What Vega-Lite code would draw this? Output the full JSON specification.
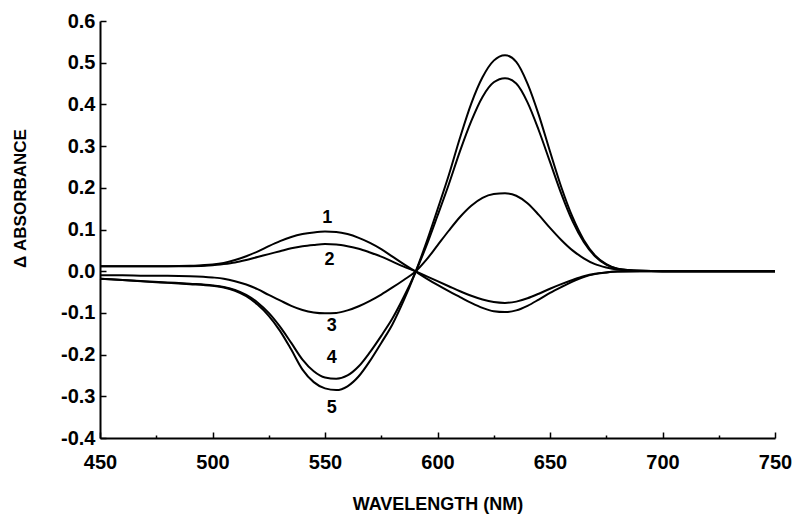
{
  "$schema": "https://vega.github.io/schema/vega-lite/v6.json",
  "width": 675,
  "height": 417,
  "autosize": "none",
  "padding": {"left": 100, "top": 21, "right": 18, "bottom": 76},
  "background": "white",
  "config": {
    "view": {"stroke": null},
    "font": "Liberation Sans",
    "axis": {
      "domainColor": "black",
      "domainWidth": 2,
      "tickColor": "black",
      "tickWidth": 1.5,
      "grid": false,
      "labelFont": "Liberation Sans",
      "labelFontWeight": "bold",
      "labelFontSize": 20,
      "labelColor": "black",
      "titleFont": "Liberation Sans",
      "titleFontWeight": "bold",
      "titleColor": "black"
    }
  },
  "datasets": {
    "spectra": [
      {"w": 450, "c1": 0.012, "c2": 0.012, "c3": -0.010, "c4": -0.018, "c5": -0.018},
      {"w": 460, "c1": 0.012, "c2": 0.012, "c3": -0.010, "c4": -0.021, "c5": -0.021},
      {"w": 470, "c1": 0.012, "c2": 0.012, "c3": -0.011, "c4": -0.024, "c5": -0.025},
      {"w": 480, "c1": 0.012, "c2": 0.012, "c3": -0.011, "c4": -0.027, "c5": -0.028},
      {"w": 490, "c1": 0.013, "c2": 0.012, "c3": -0.012, "c4": -0.030, "c5": -0.031},
      {"w": 500, "c1": 0.016, "c2": 0.014, "c3": -0.015, "c4": -0.034, "c5": -0.035},
      {"w": 505, "c1": 0.020, "c2": 0.017, "c3": -0.018, "c4": -0.038, "c5": -0.039},
      {"w": 510, "c1": 0.027, "c2": 0.021, "c3": -0.024, "c4": -0.045, "c5": -0.047},
      {"w": 515, "c1": 0.036, "c2": 0.027, "c3": -0.032, "c4": -0.057, "c5": -0.060},
      {"w": 520, "c1": 0.047, "c2": 0.034, "c3": -0.043, "c4": -0.075, "c5": -0.080},
      {"w": 525, "c1": 0.060, "c2": 0.041, "c3": -0.057, "c4": -0.100, "c5": -0.107},
      {"w": 530, "c1": 0.072, "c2": 0.048, "c3": -0.070, "c4": -0.133, "c5": -0.143},
      {"w": 535, "c1": 0.082, "c2": 0.055, "c3": -0.083, "c4": -0.172, "c5": -0.188},
      {"w": 540, "c1": 0.089, "c2": 0.060, "c3": -0.093, "c4": -0.212, "c5": -0.236},
      {"w": 545, "c1": 0.093, "c2": 0.063, "c3": -0.099, "c4": -0.240, "c5": -0.266},
      {"w": 550, "c1": 0.095, "c2": 0.065, "c3": -0.101, "c4": -0.255, "c5": -0.281},
      {"w": 555, "c1": 0.094, "c2": 0.064, "c3": -0.100, "c4": -0.258, "c5": -0.285},
      {"w": 560, "c1": 0.089, "c2": 0.060, "c3": -0.094, "c4": -0.250, "c5": -0.276},
      {"w": 565, "c1": 0.080, "c2": 0.054, "c3": -0.084, "c4": -0.228, "c5": -0.252},
      {"w": 570, "c1": 0.068, "c2": 0.045, "c3": -0.071, "c4": -0.194, "c5": -0.215},
      {"w": 575, "c1": 0.053, "c2": 0.035, "c3": -0.056, "c4": -0.155, "c5": -0.172},
      {"w": 580, "c1": 0.035, "c2": 0.023, "c3": -0.039, "c4": -0.113, "c5": -0.127},
      {"w": 585, "c1": 0.017, "c2": 0.011, "c3": -0.021, "c4": -0.062, "c5": -0.070},
      {"w": 590, "c1": 0.000, "c2": 0.000, "c3": -0.002, "c4": -0.005, "c5": -0.005},
      {"w": 595, "c1": -0.017, "c2": -0.012, "c3": 0.027, "c4": 0.060, "c5": 0.068},
      {"w": 600, "c1": -0.033, "c2": -0.024, "c3": 0.062, "c4": 0.133, "c5": 0.148},
      {"w": 605, "c1": -0.048, "c2": -0.036, "c3": 0.097, "c4": 0.208, "c5": 0.230},
      {"w": 610, "c1": -0.062, "c2": -0.048, "c3": 0.130, "c4": 0.288, "c5": 0.320},
      {"w": 615, "c1": -0.076, "c2": -0.059, "c3": 0.157, "c4": 0.360, "c5": 0.402},
      {"w": 620, "c1": -0.088, "c2": -0.068, "c3": 0.176, "c4": 0.418, "c5": 0.465},
      {"w": 625, "c1": -0.096, "c2": -0.074, "c3": 0.185, "c4": 0.453, "c5": 0.505},
      {"w": 630, "c1": -0.098, "c2": -0.076, "c3": 0.187, "c4": 0.463, "c5": 0.518},
      {"w": 635, "c1": -0.094, "c2": -0.073, "c3": 0.181, "c4": 0.450, "c5": 0.502},
      {"w": 640, "c1": -0.083, "c2": -0.065, "c3": 0.163, "c4": 0.405, "c5": 0.450},
      {"w": 645, "c1": -0.068, "c2": -0.054, "c3": 0.135, "c4": 0.338, "c5": 0.375},
      {"w": 650, "c1": -0.052, "c2": -0.042, "c3": 0.104, "c4": 0.262, "c5": 0.287},
      {"w": 655, "c1": -0.038, "c2": -0.031, "c3": 0.075, "c4": 0.186, "c5": 0.202},
      {"w": 660, "c1": -0.025, "c2": -0.021, "c3": 0.050, "c4": 0.120, "c5": 0.130},
      {"w": 665, "c1": -0.014, "c2": -0.012, "c3": 0.031, "c4": 0.070, "c5": 0.075},
      {"w": 670, "c1": -0.007, "c2": -0.006, "c3": 0.017, "c4": 0.036, "c5": 0.038},
      {"w": 675, "c1": -0.003, "c2": -0.003, "c3": 0.009, "c4": 0.016, "c5": 0.017},
      {"w": 680, "c1": -0.001, "c2": -0.001, "c3": 0.004, "c4": 0.006, "c5": 0.006},
      {"w": 690, "c1": 0.000, "c2": 0.000, "c3": 0.001, "c4": 0.001, "c5": 0.001},
      {"w": 700, "c1": 0.000, "c2": 0.000, "c3": 0.000, "c4": 0.000, "c5": 0.000},
      {"w": 720, "c1": 0.000, "c2": 0.000, "c3": 0.000, "c4": 0.000, "c5": 0.000},
      {"w": 750, "c1": 0.000, "c2": 0.000, "c3": 0.000, "c4": 0.000, "c5": 0.000}
    ],
    "labels": [
      {"w": 551, "a": 0.127, "t": "1"},
      {"w": 552, "a": 0.027, "t": "2"},
      {"w": 553, "a": -0.132, "t": "3"},
      {"w": 553, "a": -0.208, "t": "4"},
      {"w": 553, "a": -0.328, "t": "5"}
    ]
  },
  "layer": [
    {
      "data": {"name": "spectra"},
      "transform": [{"fold": ["c1", "c2", "c3", "c4", "c5"], "as": ["curve", "a"]}],
      "mark": {"type": "line", "interpolate": "monotone", "color": "black", "strokeWidth": 2},
      "encoding": {
        "x": {
          "field": "w",
          "type": "quantitative",
          "scale": {"domain": [450, 750], "nice": false, "zero": false},
          "axis": {
            "title": "WAVELENGTH (NM)",
            "titleFontSize": 18,
            "titleBaseline": "alphabetic",
            "titleY": 71,
            "values": [450, 475, 500, 525, 550, 575, 600, 625, 650, 675, 700, 725, 750],
            "labelExpr": "datum.value % 50 === 0 ? datum.label : ''",
            "format": "d",
            "tickSize": {"condition": {"test": "datum.value % 50 === 0", "value": -6}, "value": -3},
            "labelPadding": 20,
            "labelFlush": false,
            "labelOverlap": false
          }
        },
        "y": {
          "field": "a",
          "type": "quantitative",
          "scale": {"domain": [-0.4, 0.6], "nice": false, "zero": false},
          "axis": {
            "title": "Δ  ABSORBANCE",
            "titleFontSize": 17,
            "titleAngle": 270,
            "titleAlign": "center",
            "titleBaseline": "middle",
            "titleX": -80,
            "titleY": 177,
            "values": [-0.4, -0.35, -0.3, -0.25, -0.2, -0.15, -0.1, -0.05, 0, 0.05, 0.1, 0.15, 0.2, 0.25, 0.3, 0.35, 0.4, 0.45, 0.5, 0.55, 0.6],
            "labelExpr": "abs(datum.value * 10 - round(datum.value * 10)) < 0.001 ? replace(format(datum.value, '.1f'), '\u2212', '-') : ''",
            "tickSize": {"condition": {"test": "abs(datum.value * 10 - round(datum.value * 10)) < 0.001", "value": -6}, "value": -3},
            "labelPadding": 11,
            "labelFlush": false,
            "labelOverlap": false
          }
        },
        "detail": {"field": "curve", "type": "nominal"}
      }
    },
    {
      "data": {"name": "labels"},
      "mark": {"type": "text", "font": "Liberation Sans", "fontWeight": "bold", "fontSize": 18, "color": "black", "align": "center", "baseline": "middle"},
      "encoding": {
        "x": {"field": "w", "type": "quantitative"},
        "y": {"field": "a", "type": "quantitative"},
        "text": {"field": "t", "type": "nominal"}
      }
    }
  ]
}
